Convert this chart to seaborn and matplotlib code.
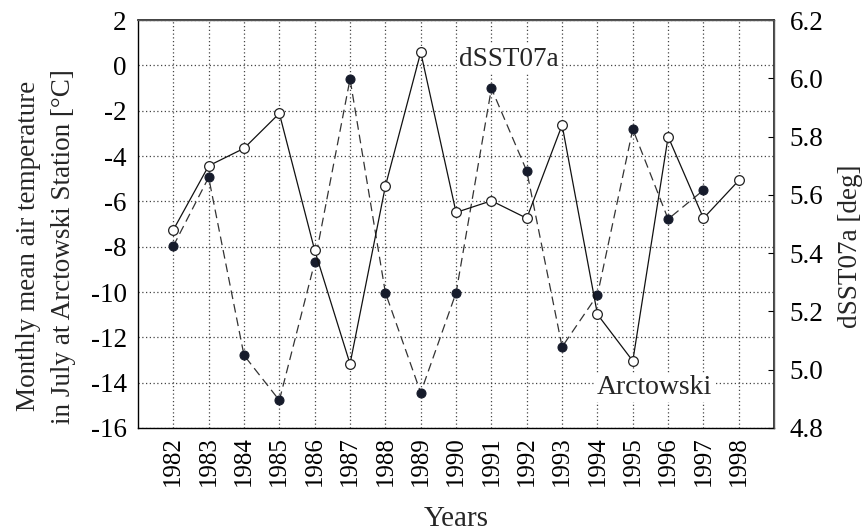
import matplotlib
matplotlib.use("Agg")
import matplotlib.pyplot as plt
import seaborn as sns
import pandas as pd

# July air temperature at Arctowski Station (left axis, °C)
years_arct = [1982, 1983, 1984, 1985, 1986, 1987, 1988, 1989, 1990,
              1991, 1992, 1993, 1994, 1995, 1996, 1997]
temp_arct = [-7.97, -4.94, -12.79, -14.78, -8.69, -0.60, -10.03, -14.44,
             -10.03, -1.01, -4.66, -12.42, -10.13, -2.81, -6.78, -5.50]

# dSST07a index (right axis, deg)
years_sst = [1982, 1983, 1984, 1985, 1986, 1987, 1988, 1989, 1990,
             1991, 1992, 1993, 1994, 1995, 1996, 1997, 1998]
dsst = [5.48, 5.70, 5.76, 5.88, 5.41, 5.02, 5.63, 6.09, 5.54,
        5.58, 5.52, 5.84, 5.19, 5.03, 5.80, 5.52, 5.65]

left_ticks = [2, 0, -2, -4, -6, -8, -10, -12, -14, -16]
right_ticks = [4.8, 5.0, 5.2, 5.4, 5.6, 5.8, 6.0, 6.2]

sns.set_theme(style="white")
plt.rcParams["font.family"] = ["Liberation Serif", "DejaVu Serif"]

fig = plt.figure(figsize=(8.65, 5.31), dpi=100)
ax = fig.add_axes([0.1595, 0.194, 0.7355, 0.768])
ax2 = ax.twinx()

df_a = pd.DataFrame({"year": years_arct, "temp": temp_arct})
df_s = pd.DataFrame({"year": years_sst, "sst": dsst})

# Arctowski: filled dots joined by a dashed line
sns.lineplot(data=df_a, x="year", y="temp", ax=ax, color="#333333",
             linewidth=0.9, marker="o", markersize=6.5,
             markerfacecolor="#161b2b", markeredgecolor="#161b2b",
             zorder=3)
ax.lines[-1].set_dashes((7, 4))

# dSST07a: open circles joined by a solid line
sns.lineplot(data=df_s, x="year", y="sst", ax=ax2, color="#111111",
             linewidth=0.9, marker="o", markersize=7,
             markerfacecolor="white", markeredgecolor="#222222",
             markeredgewidth=0.9, zorder=3)

ax.set_xlim(1981, 1999)
ax.set_ylim(-16, 2)
ax2.set_ylim(4.8, 6.2)

ax.set_xticks(years_sst)
ax.set_xticklabels([str(y) for y in years_sst], rotation=90)
ax.set_yticks(left_ticks)
ax.set_yticklabels([str(t) for t in left_ticks])
ax2.set_yticks(right_ticks)
ax2.set_yticklabels([f"{t:.1f}" for t in right_ticks])

ax.grid(True, linestyle=(0, (1, 2)), color="#444444", linewidth=0.9)
ax2.grid(False)

ax.tick_params(axis="both", length=0, colors="black")
ax.tick_params(axis="x", labelsize=18, pad=6)
ax.tick_params(axis="y", labelsize=19.5, pad=8)
ax2.tick_params(axis="y", direction="in", length=4, width=0.8,
                labelsize=19.5, colors="black", pad=11)

ax.set_xlabel("Years", fontsize=21, labelpad=14)
ax.set_ylabel("Monthly mean air temperature\nin July at Arctowski Station [°C]",
              fontsize=19.5, linespacing=1.55)
ax.yaxis.set_label_coords(-0.097, 0.446)
ax2.set_ylabel("dSST07a [deg]", fontsize=19.5)
ax2.yaxis.set_label_coords(1.1, 0.446)

for s in ["left", "bottom"]:
    ax.spines[s].set_color("black")
    ax.spines[s].set_linewidth(1.0)
for s in ["top", "right"]:
    ax2.spines[s].set_color("#555555")
    ax2.spines[s].set_linewidth(1.0)
ax2.spines["left"].set_visible(False)
ax2.spines["bottom"].set_visible(False)

box = dict(facecolor="white", edgecolor="none", pad=1.5)
ax2.text(1991.5, 0.28, "dSST07a", transform=ax.transData, fontsize=19.5,
         ha="center", va="center", bbox=box, zorder=5)
ax2.text(1995.6, -14.2, "Arctowski", transform=ax.transData, fontsize=20,
         ha="center", va="center", bbox=box, zorder=5)

fig.savefig("out.png", dpi=100)
